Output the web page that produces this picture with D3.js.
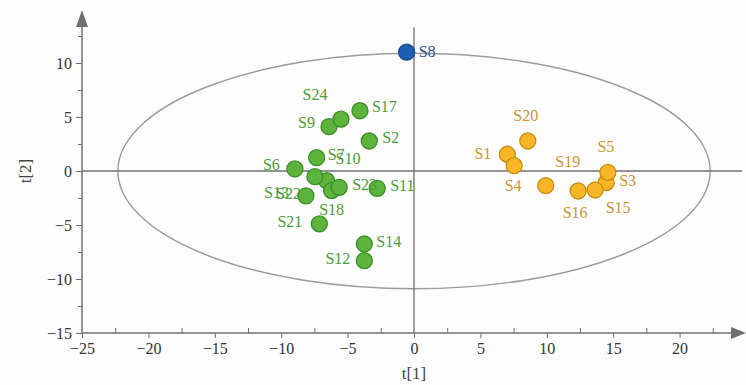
<!DOCTYPE html>
<html><head><meta charset="utf-8">
<script src="https://cdn.jsdelivr.net/npm/d3@7"></script>
<style>
html,body{margin:0;padding:0;background:#fdfdfd;}
svg text{font-family:"Liberation Serif","DejaVu Serif",serif !important;}
</style></head>
<body><svg id="c" width="746" height="385"></svg>
<script>
// ---- data ----
const names   = ["S1","S2","S3","S4","S5","S6","S7","S8","S9","S10","S11","S12","S13","S14","S15","S16","S17","S18","S19","S20","S21","S22","S23","S24"];
const t1      = [7.03,-3.37,14.47,7.54,14.6,-8.97,-7.33,-0.55,-6.4,-6.58,-2.77,-3.74,-7.46,-3.74,13.64,12.36,-4.07,-6.2,9.92,8.57,-7.13,-8.14,-5.63,-5.5];
const t2      = [1.55,2.78,-1.08,0.49,-0.12,0.19,1.23,11.0,4.1,-0.9,-1.6,-8.3,-0.53,-6.76,-1.76,-1.85,5.58,-1.82,-1.36,2.78,-4.9,-2.31,-1.51,4.8];
const groups  = ["B","A","B","B","B","A","A","C","A","A","A","A","A","A","B","B","A","A","B","B","A","A","A","A"];
const xTicks  = [-25,-20,-15,-10,-5,0,5,10,15,20];
const yTicks  = [-15,-10,-5,0,5,10];
const ellipseRadii = [22.3,10.9];

// label placement (pixel offsets, anchor)
const labelPos = {
  S1:[-16,5,"end"], S2:[13,2,"start"], S3:[13,3,"start"], S4:[-1,25,"middle"], S5:[-2,-20,"middle"],
  S6:[-15,1,"end"], S7:[11,2,"start"], S8:[12,5,"start"], S9:[-14,1,"end"], S10:[9,-17,"start"],
  S11:[13,3,"start"], S12:[-14,3,"end"], S13:[-26,21,"end"], S14:[12,3,"start"], S15:[23,23,"middle"],
  S16:[-3,27,"middle"], S17:[12,1,"start"], S18:[0,24,"middle"], S19:[22,-19,"middle"], S20:[-2,-20,"middle"],
  S21:[-17,3,"end"], S22:[-5,3,"end"], S23:[13,3,"start"], S24:[-26,-19,"middle"]
};
const fillC   = {A:"#5cb43c", B:"#f8b626", C:"#1d5eb3"};
const strokeC = {A:"#3b8d27", B:"#c68d12", C:"#15478c"};
const textC   = {A:"#4a9c38", B:"#c9952c", C:"#2c4d9c"};

const svg = d3.select("#c");
const x = d3.scaleLinear().domain([-25,25]).range([82,746]);
const y = d3.scaleLinear().domain([-15,15]).range([333,9]);
const axC = "#6f6f6f";

// ellipse
svg.append("ellipse")
  .attr("cx", x(0)).attr("cy", y(0))
  .attr("rx", x(ellipseRadii[0]) - x(0)).attr("ry", y(0) - y(ellipseRadii[1]))
  .attr("fill","none").attr("stroke","#9b9b9b").attr("stroke-width",1.4);

// zero lines
svg.append("line").attr("x1",x(-25)).attr("x2",x(25)-4).attr("y1",y(0)).attr("y2",y(0))
  .attr("stroke",axC).attr("stroke-width",1.3);
svg.append("line").attr("x1",x(0)).attr("x2",x(0)).attr("y1",y(-15)).attr("y2",y(13.3))
  .attr("stroke",axC).attr("stroke-width",1.3);

// x axis
const minorX = d3.range(-22.5, 25, 5);
const gx = svg.append("g").attr("transform",`translate(0,${y(-15)})`)
  .call(d3.axisBottom(x).tickValues(xTicks).tickSize(5).tickSizeOuter(0).tickPadding(5));
gx.select(".domain").remove();
gx.selectAll("line").attr("stroke",axC);
gx.selectAll("text").attr("font-size",16).attr("fill","#333");
svg.append("g").attr("transform",`translate(0,${y(-15)})`)
  .call(d3.axisTop(x).tickValues(minorX).tickSize(5).tickFormat(""))
  .call(g=>{g.select(".domain").remove(); g.selectAll("line").attr("stroke",axC);});
svg.append("line").attr("x1",x(-25)).attr("x2",x(25)-12).attr("y1",y(-15)).attr("y2",y(-15))
  .attr("stroke",axC).attr("stroke-width",1.5);
svg.append("path").attr("d",`M${x(25)},${y(-15)} L${x(25)-15},${y(-15)-6} L${x(25)-15},${y(-15)+6} Z`).attr("fill",axC);

// y axis
const minorY = d3.range(-12.5, 15, 5);
const gy = svg.append("g").attr("transform",`translate(${x(-25)},0)`)
  .call(d3.axisLeft(y).tickValues(yTicks).tickSize(6).tickSizeOuter(0).tickPadding(4));
gy.select(".domain").remove();
gy.selectAll("line").attr("stroke",axC);
gy.selectAll("text").attr("font-size",16).attr("fill","#333");
svg.append("g").attr("transform",`translate(${x(-25)},0)`)
  .call(d3.axisLeft(y).tickValues(minorY).tickSize(4).tickFormat(""))
  .call(g=>{g.select(".domain").remove(); g.selectAll("line").attr("stroke",axC);});
svg.append("line").attr("x1",x(-25)).attr("x2",x(-25)).attr("y1",y(-15)).attr("y2",y(15)+12)
  .attr("stroke",axC).attr("stroke-width",1.5);
svg.append("path").attr("d",`M${x(-25)},${y(15)+1} L${x(-25)-6},${y(15)+18} L${x(-25)+6},${y(15)+18} Z`).attr("fill",axC);

// axis titles
svg.append("text").attr("x",x(0)).attr("y",379).attr("text-anchor","middle")
  .attr("font-size",17).attr("fill","#444").text("t[1]");
svg.append("text").attr("transform",`translate(31,${y(0)}) rotate(-90)`).attr("text-anchor","middle")
  .attr("font-size",17).attr("fill","#444").text("t[2]");

// points
const pts = names.map((n,i)=>({n, a:t1[i], b:t2[i], g:groups[i]}));
svg.append("g").selectAll("circle").data(pts).join("circle")
  .attr("cx",d=>x(d.a)).attr("cy",d=>y(d.b)).attr("r",8)
  .attr("fill",d=>fillC[d.g]).attr("stroke",d=>strokeC[d.g]).attr("stroke-width",1.3);

// labels
svg.append("g").selectAll("text").data(pts).join("text")
  .attr("x",d=>x(d.a)+labelPos[d.n][0]).attr("y",d=>y(d.b)+labelPos[d.n][1])
  .attr("text-anchor",d=>labelPos[d.n][2])
  .attr("font-size",16).attr("fill",d=>textC[d.g]).text(d=>d.n);
</script></body></html>
